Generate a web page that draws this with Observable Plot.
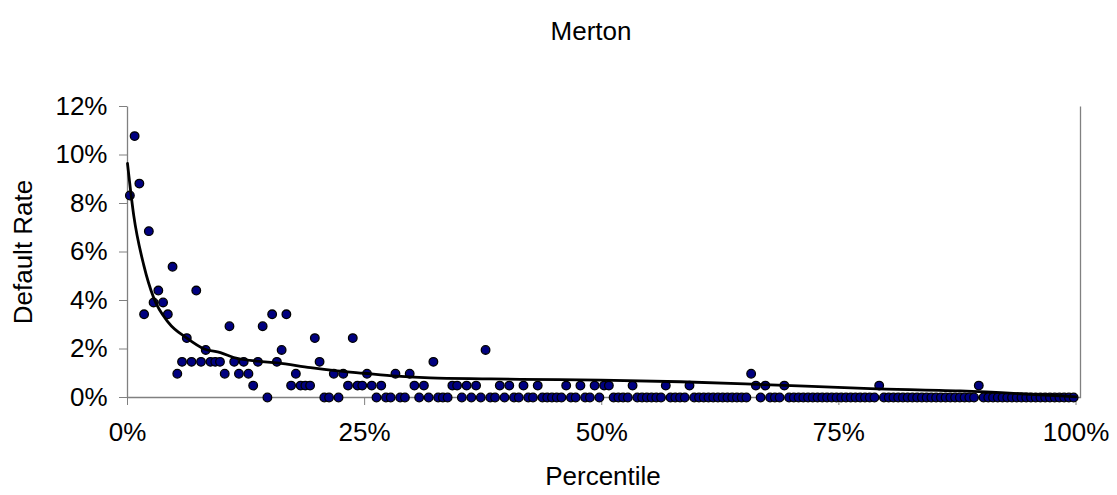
<!DOCTYPE html>
<html>
<head>
<meta charset="utf-8">
<script src="https://cdn.jsdelivr.net/npm/d3@7"></script>
<script src="https://cdn.jsdelivr.net/npm/@observablehq/plot@0.6"></script>
<style>
  html, body { margin: 0; padding: 0; background: #fff; }
  #wrap { position: relative; width: 1117px; height: 495px; font-family: "Liberation Sans", Arial, sans-serif; }
  #title { position: absolute; left: 0; width: 1182px; top: 16px; text-align: center; font-size: 26px; color: #000; }
  #xlabel { position: absolute; left: 0; width: 1206px; top: 461px; text-align: center; font-size: 26px; color: #000; }
  #chart { position: absolute; left: 0; top: 60px; }
</style>
</head>
<body>
<div id="wrap">
  <div id="title">Merton</div>
  <div id="chart"></div>
  <div id="xlabel">Percentile</div>
</div>
<script>
// Percentile bucket midpoints (%)
const percentile = [
  0.25,0.75,1.25,1.75,2.25,2.75,3.25,3.75,4.25,4.75,5.25,5.75,6.25,6.75,7.25,7.75,8.25,8.75,9.25,9.75,
  10.25,10.75,11.25,11.75,12.25,12.75,13.25,13.75,14.25,14.75,15.25,15.75,16.25,16.75,17.25,17.75,18.25,18.75,19.25,19.75,
  20.25,20.75,21.25,21.75,22.25,22.75,23.25,23.75,24.25,24.75,25.25,25.75,26.25,26.75,27.25,27.75,28.25,28.75,29.25,29.75,
  30.25,30.75,31.25,31.75,32.25,32.75,33.25,33.75,34.25,34.75,35.25,35.75,36.25,36.75,37.25,37.75,38.25,38.75,39.25,39.75,
  40.25,40.75,41.25,41.75,42.25,42.75,43.25,43.75,44.25,44.75,45.25,45.75,46.25,46.75,47.25,47.75,48.25,48.75,49.25,49.75,
  50.25,50.75,51.25,51.75,52.25,52.75,53.25,53.75,54.25,54.75,55.25,55.75,56.25,56.75,57.25,57.75,58.25,58.75,59.25,59.75,
  60.25,60.75,61.25,61.75,62.25,62.75,63.25,63.75,64.25,64.75,65.25,65.75,66.25,66.75,67.25,67.75,68.25,68.75,69.25,69.75,
  70.25,70.75,71.25,71.75,72.25,72.75,73.25,73.75,74.25,74.75,75.25,75.75,76.25,76.75,77.25,77.75,78.25,78.75,79.25,79.75,
  80.25,80.75,81.25,81.75,82.25,82.75,83.25,83.75,84.25,84.75,85.25,85.75,86.25,86.75,87.25,87.75,88.25,88.75,89.25,89.75,
  90.25,90.75,91.25,91.75,92.25,92.75,93.25,93.75,94.25,94.75,95.25,95.75,96.25,96.75,97.25,97.75,98.25,98.75,99.25,99.75
];
// Observed default rate (%) per bucket
const defaultRate = [
  8.33,10.78,8.82,3.43,6.86,3.92,4.41,3.92,3.43,5.39,0.98,1.47,2.45,1.47,4.41,1.47,1.96,1.47,1.47,1.47,
  0.98,2.94,1.47,0.98,1.47,0.98,0.49,1.47,2.94,0,3.43,1.47,1.96,3.43,0.49,0.98,0.49,0.49,0.49,2.45,
  1.47,0,0,0.98,0,0.98,0.49,2.45,0.49,0.49,0.98,0.49,0,0.49,0,0,0.98,0,0,0.98,
  0.49,0,0.49,0,1.47,0,0,0,0.49,0.49,0,0.49,0,0.49,0,1.96,0,0,0.49,0,
  0.49,0,0,0.49,0,0,0.49,0,0,0,0,0,0.49,0,0,0.49,0,0,0.49,0,
  0.49,0.49,0,0,0,0,0.49,0,0,0,0,0,0,0.49,0,0,0,0,0.49,0,
  0,0,0,0,0,0,0,0,0,0,0,0.98,0.49,0,0.49,0,0,0,0.49,0,
  0,0,0,0,0,0,0,0,0,0,0,0,0,0,0,0,0,0,0.49,0,
  0,0,0,0,0,0,0,0,0,0,0,0,0,0,0,0,0,0,0,0.49,
  0,0,0,0,0,0,0,0,0,0,0,0,0,0,0,0,0,0,0,0
];
// Fitted trend curve
const trendX = [0, 0.66, 1.72, 2.77, 4.3, 6.3, 8.1, 9.8, 11.2, 13.7, 15.8, 19.3, 22.1, 24.9, 28.4, 31.9, 38.3, 41.4, 49.9, 58.3, 67.8, 78.3, 87.8, 100];
const trendY = [9.65, 7.5, 5.45, 4.1, 3.1, 2.44, 2.0, 1.85, 1.65, 1.5, 1.43, 1.23, 1.1, 1.0, 0.88, 0.81, 0.77, 0.75, 0.72, 0.65, 0.52, 0.37, 0.27, 0.03];
const xTicks = [0, 25, 50, 75, 100];
const yTicks = [0, 2, 4, 6, 8, 10, 12];

const points = percentile.map((p, i) => ({p, r: defaultRate[i]}));
const trend = trendX.map((x, i) => ({x, y: trendY[i]}));

const chart = Plot.plot({
  width: 1117,
  height: 435,
  marginLeft: 127,
  marginRight: 37,
  marginTop: 46,
  marginBottom: 98,
  insetRight: 4.5,
  style: {fontFamily: "'Liberation Sans', Arial, sans-serif", fontSize: "26px", background: "white", color: "black"},
  x: {domain: [0, 100]},
  y: {domain: [0, 12]},
  marks: [
    Plot.frame({stroke: "#808080", strokeWidth: 1.3, strokeDasharray: "0 953 1600"}),
    Plot.axisY(yTicks, {tickSize: 8, tickPadding: 12, tickFormat: d => d + "%", stroke: "#808080", fill: "black", label: null, fontSize: 26}),
    Plot.axisX(xTicks, {tickSize: 8, tickPadding: 17, tickFormat: d => d + "%", stroke: "#808080", fill: "black", label: null, fontSize: 26}),
    Plot.text(["Default Rate"], {frameAnchor: "left", textAnchor: "middle", dx: -104, rotate: -90, fontSize: 26, fill: "black"}),
    Plot.dot(points, {x: "p", y: "r", r: 4.3, fill: "#000080", stroke: "black", strokeWidth: 1.3}),
    Plot.line(trend, {x: "x", y: "y", curve: "monotone-x", stroke: "black", strokeWidth: 2.8})
  ]
});
document.getElementById("chart").appendChild(chart);
</script>
</body>
</html>
